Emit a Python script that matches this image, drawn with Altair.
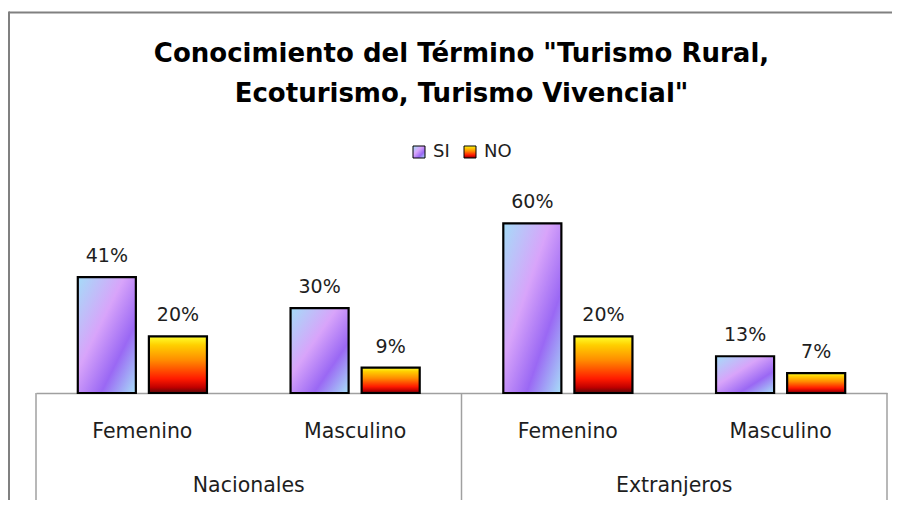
import altair as alt
import pandas as pd

# ---------------- data ----------------
grupos = ["Nacionales", "Nacionales", "Extranjeros", "Extranjeros"]
sexos = ["Femenino", "Masculino", "Femenino", "Masculino"]
si_vals = [0.41, 0.30, 0.60, 0.13]
no_vals = [0.20, 0.09, 0.20, 0.07]
series = ["SI", "NO"]
title_lines = ['Conocimiento del Término "Turismo Rural,', 'Ecoturismo, Turismo Vivencial"']

keys = [f"{g} {s}" for g, s in zip(grupos, sexos)]
rows = []
for k, g, s, a, b in zip(keys, grupos, sexos, si_vals, no_vals):
    rows.append({"key": k, "grupo": g, "sexo": s, "serie": "SI", "valor": a})
    rows.append({"key": k, "grupo": g, "sexo": s, "serie": "NO", "valor": b})
df = pd.DataFrame(rows)
cats = pd.DataFrame({"key": keys, "sexo": sexos})
grp_names = list(dict.fromkeys(grupos))
# each group label sits on the boundary between its two sub-categories
grp = pd.DataFrame({"grupo": grp_names,
                    "key": [[k for k, g in zip(keys, grupos) if g == n][1] for n in grp_names]})
starts = pd.DataFrame({"key": [[k for k, g in zip(keys, grupos) if g == n][0] for n in grp_names]})
ends = pd.DataFrame({"key": [keys[-1]]})
one = pd.DataFrame({"a": [0]})

# ---------------- styling ----------------
W, H = 851, 198
FONT = "DejaVu Sans"
TXT = "#1e1e1e"
LINE = "#a0a0a0"

SI_G = ("{gradient:'linear',x1:0,y1:0,x2:1,y2:1,stops:["
        "{offset:0,color:'#a4dcf8'},{offset:0.40,color:'#d8a4fa'},"
        "{offset:0.70,color:'#9a68f4'},{offset:1,color:'#a8e0f8'}]}")
NO_G = ("{gradient:'linear',x1:0,y1:0,x2:0,y2:1,stops:["
        "{offset:0,color:'#ffff30'},{offset:0.15,color:'#ffd000'},"
        "{offset:0.42,color:'#ff8c00'},{offset:0.75,color:'#ff1a00'},"
        "{offset:0.9,color:'#c00000'},{offset:1,color:'#5a0808'}]}")

xs = alt.Scale(domain=keys, paddingInner=0, paddingOuter=0)
xo = alt.Scale(domain=series, paddingInner=0.1831, paddingOuter=0.588)
ys = alt.Scale(domain=[0, 0.7])
AX = alt.Axis(labels=False, ticks=False, title=None, grid=False, domain=True,
              domainColor=LINE, domainWidth=1.5)

bars = alt.Chart(df).mark_bar(stroke="black", strokeWidth=2.2, opacity=1).encode(
    x=alt.X("key:N", scale=xs, axis=AX, sort=keys),
    xOffset=alt.XOffset("serie:N", scale=xo, sort=series),
    y=alt.Y("valor:Q", scale=ys, axis=None),
    fill=alt.Fill("serie:N", sort=series,
                  scale=alt.Scale(domain=series, range=[{"expr": SI_G}, {"expr": NO_G}]),
                  legend=alt.Legend(title=None, orient="none", legendX=374, legendY=-52,
                                    direction="horizontal", symbolType="square",
                                    symbolSize=144, symbolStrokeColor="black",
                                    symbolStrokeWidth=1, labelFont=FONT, labelFontSize=18,
                                    labelColor=TXT, columnPadding=11, labelOffset=5,
                                    padding=0)),
)

labels = alt.Chart(df).mark_text(font=FONT, fontSize=19, color=TXT,
                                 baseline="alphabetic", dy=-15).encode(
    x=alt.X("key:N", scale=xs, axis=AX, sort=keys),
    xOffset=alt.XOffset("serie:N", scale=xo, sort=series),
    y=alt.Y("valor:Q", scale=ys, axis=None),
    text=alt.Text("valor:Q", format=".0%"),
)

cat_text = alt.Chart(cats).mark_text(font=FONT, fontSize=20.5, color=TXT,
                                     baseline="middle").encode(
    x=alt.X("key:N", scale=xs, axis=AX, sort=keys),
    y=alt.value(H + 39),
    text="sexo:N",
)

grp_text = alt.Chart(grp).mark_text(font=FONT, fontSize=20.5, color=TXT,
                                    baseline="middle").encode(
    x=alt.X("key:N", scale=xs, axis=AX, sort=keys, bandPosition=0),
    y=alt.value(H + 93),
    text="grupo:N",
)

rule_start = alt.Chart(starts).mark_rule(color=LINE, strokeWidth=1.5).encode(
    x=alt.X("key:N", scale=xs, axis=AX, sort=keys, bandPosition=0),
    y=alt.value(H), y2=alt.value(H + 130),
)
rule_end = alt.Chart(ends).mark_rule(color=LINE, strokeWidth=1.5).encode(
    x=alt.X("key:N", scale=xs, axis=AX, sort=keys, bandPosition=1),
    y=alt.value(H), y2=alt.value(H + 130),
)

# outer chart-area frame (top and left edges visible)
frame_top = alt.Chart(one).mark_rule(color="#808080", strokeWidth=2).encode(
    x=alt.value(-27), x2=alt.value(W + 10), y=alt.value(-182.5))
frame_left = alt.Chart(one).mark_rule(color="#808080", strokeWidth=2).encode(
    x=alt.value(-27), y=alt.value(-183.5), y2=alt.value(H + 130))

chart = alt.layer(
    frame_top, frame_left, rule_start, rule_end, bars, labels, cat_text, grp_text
).properties(
    width=W, height=H,
    padding={"left": 28, "top": 187, "right": 5, "bottom": 107},
    autosize=alt.AutoSizeParams(type="none"),
    title=alt.TitleParams(text=title_lines, font=FONT, fontSize=26, fontWeight="bold",
                          color="black", lineHeight=40, anchor="middle", frame="group",
                          offset=-96),
).configure_view(stroke=None)

chart.save("out.html", embed_options={"renderer": "svg", "actions": False})
